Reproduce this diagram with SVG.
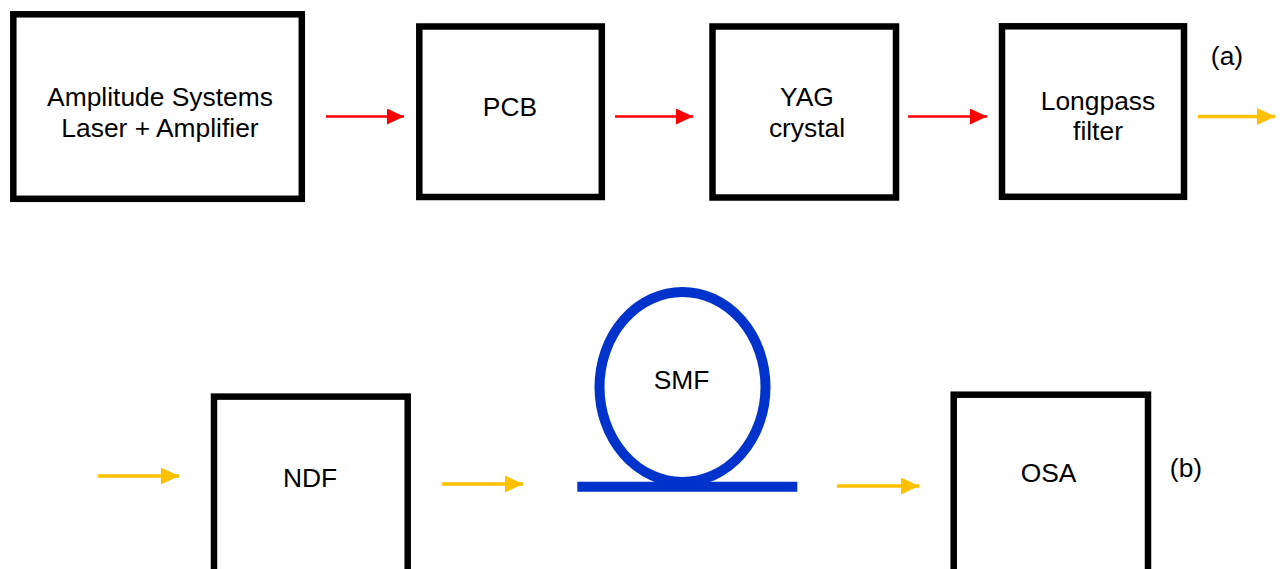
<svg xmlns="http://www.w3.org/2000/svg" width="1283" height="569" viewBox="0 0 1283 569">
<style>
.box{fill:#fff;stroke:#000;stroke-width:6.5}
.t{font-family:"Liberation Sans",Arial,sans-serif;font-size:26.4px;fill:#000;text-anchor:middle}
.red{stroke:#ff0000;stroke-width:2.5;fill:none}
.yel{stroke:#ffc000;stroke-width:3.5;fill:none}
.fiber{stroke:#0033cc;stroke-width:10;fill:none}
</style>
<defs>
<marker id="ar" markerUnits="userSpaceOnUse" markerWidth="17" markerHeight="16" refX="17" refY="8" orient="auto" viewBox="0 0 17 16">
<path d="M0,0 L17,8 L0,16 Z" fill="#ff0000"/>
</marker>
<marker id="ay" markerUnits="userSpaceOnUse" markerWidth="18" markerHeight="17" refX="18" refY="8.5" orient="auto" viewBox="0 0 18 17">
<path d="M0,0 L18,8.5 L0,17 Z" fill="#ffc000"/>
</marker>
</defs>
<g id="connectors">
<line class="red" x1="326" y1="116.5" x2="404" y2="116.5" marker-end="url(#ar)"/>
<line class="red" x1="615" y1="116.5" x2="693" y2="116.5" marker-end="url(#ar)"/>
<line class="red" x1="908" y1="116.5" x2="987" y2="116.5" marker-end="url(#ar)"/>
<line class="yel" x1="1198" y1="116.5" x2="1275" y2="116.5" marker-end="url(#ay)"/>
<line class="yel" x1="98" y1="476" x2="179" y2="476" marker-end="url(#ay)"/>
<line class="yel" x1="442" y1="484" x2="523" y2="484" marker-end="url(#ay)"/>
<line class="yel" x1="837" y1="486" x2="919" y2="486" marker-end="url(#ay)"/>
</g>
<g id="laser">
<rect class="box" x="13.3" y="14.3" width="288.5" height="184.5"/>
<text class="t" x="160" y="105.5">Amplitude Systems</text>
<text class="t" x="160" y="137">Laser + Amplifier</text>
</g>
<g id="pcb">
<rect class="box" x="419.3" y="26.5" width="182.5" height="170.5"/>
<text class="t" x="510" y="116">PCB</text>
</g>
<g id="yag">
<rect class="box" x="712.5" y="26.5" width="183.5" height="171"/>
<text class="t" x="807" y="105.5">YAG</text>
<text class="t" x="807" y="137">crystal</text>
</g>
<g id="longpass">
<rect class="box" x="1002" y="26.3" width="182" height="170.5"/>
<text class="t" x="1098" y="109.5">Longpass</text>
<text class="t" x="1098" y="139.5">filter</text>
</g>
<g id="label-a">
<text class="t" x="1227" y="65">(a)</text>
</g>
<g id="ndf">
<rect class="box" x="214" y="396.6" width="193.7" height="200"/>
<text class="t" x="310" y="487">NDF</text>
</g>
<g id="smf">
<ellipse class="fiber" cx="682.5" cy="387" rx="83" ry="95"/>
<line class="fiber" x1="577.3" y1="486.7" x2="797.3" y2="486.7"/>
<text class="t" x="681.5" y="389">SMF</text>
</g>
<g id="osa">
<rect class="box" x="953.7" y="394.7" width="194.3" height="200"/>
<text class="t" x="1048.5" y="482">OSA</text>
</g>
<g id="label-b">
<text class="t" x="1186" y="476.5">(b)</text>
</g>
</svg>
